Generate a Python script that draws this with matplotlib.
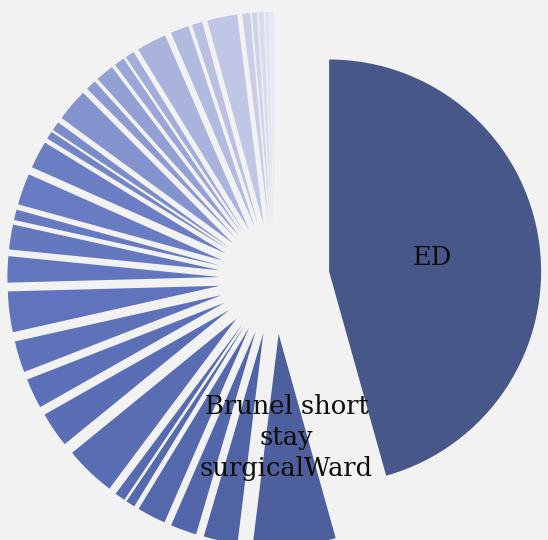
import matplotlib
matplotlib.use("Agg")
import matplotlib.pyplot as plt
from matplotlib.colors import LinearSegmentedColormap

# Patient counts by ward (only the two largest wards are labelled)
ward_labels = ["ED", "Brunel short\nstay\nsurgicalWard"] + [""] * 31
patient_counts = [458, 63, 26, 20, 22, 7, 8, 39, 27, 23, 24, 31, 20, 19, 8,
                  24, 21, 6, 7, 25, 8, 14, 8, 7, 23, 14, 8, 23, 6, 4, 4, 3, 3]

# Monochrome blue ramp from the largest ward to the smallest
ramp = LinearSegmentedColormap.from_list(
    "ward_blues",
    [(0.00, "#48578a"), (0.03, "#4d5f9c"), (0.08, "#5165a8"),
     (0.35, "#6074bd"), (0.50, "#6a7ec4"), (0.62, "#8a98cf"),
     (0.78, "#b0b9df"), (0.88, "#c8cde8"), (1.00, "#e6e8f3")])
n = len(patient_counts)
colors = [ramp(i / (n - 1)) for i in range(n)]

W, H = 548, 540
fig = plt.figure(figsize=(W / 100, H / 100), dpi=100, facecolor="#f2f2f2")
ax = fig.add_axes([0, 0, 1, 1])
ax.set_facecolor("#f2f2f2")

wedges, texts = ax.pie(
    patient_counts,
    labels=ward_labels,
    colors=colors,
    explode=[0.26] * n,
    startangle=90,
    counterclock=False,
    labeldistance=0.49,
    wedgeprops=dict(linewidth=0),
    textprops=dict(fontsize=18.5, family="DejaVu Serif", color="#0d0d0d"),
)
for t in texts:
    t.set_horizontalalignment("center")
    t.set_verticalalignment("center")
    t.set_linespacing(1.32)

# Pixel-exact framing: radius 1 == 212 px, pie centre at (274.5, 279) from top-left
scale = 212.0
cx, cy = 274.5, 279.0
ax.set_xlim(-cx / scale, (W - cx) / scale)
ax.set_ylim(-(H - cy) / scale, cy / scale)
ax.set_aspect("auto")
ax.axis("off")

fig.savefig("out.png", dpi=100, facecolor=fig.get_facecolor())
